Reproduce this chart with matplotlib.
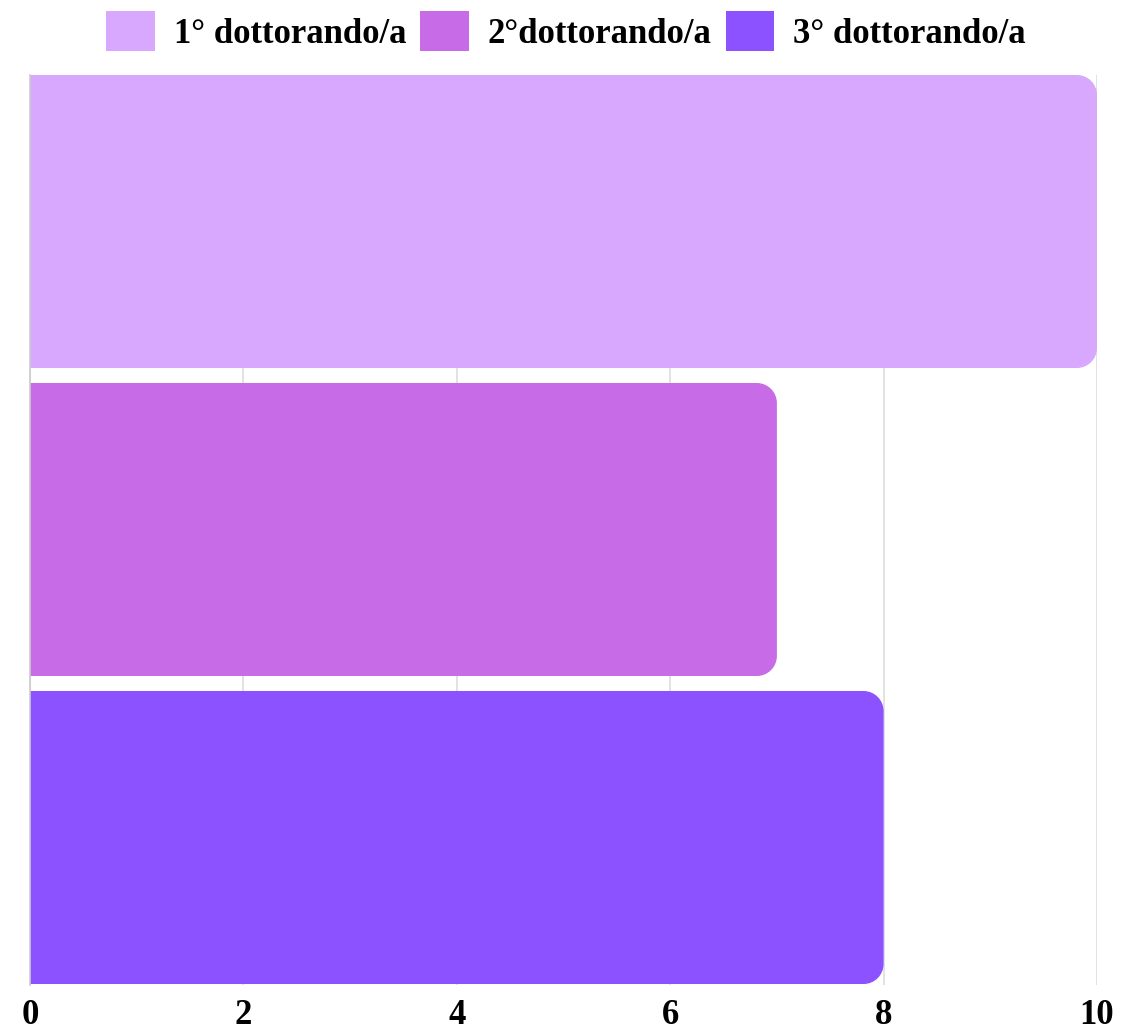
import matplotlib
matplotlib.use('Agg')
import matplotlib.pyplot as plt
from matplotlib.path import Path
from matplotlib.patches import PathPatch, Patch

# data
series = ['1° dottorando/a', '2°dottorando/a', '3° dottorando/a']
values = [10, 7, 8]
colors = ['#D8A8FF', '#C86BE6', '#8C52FF']
xticks = [0, 2, 4, 6, 8, 10]

W, H = 1132, 1035
top, bot = 75, 985
band = 308  # pixel height of one category band
fig = plt.figure(figsize=(W / 100, H / 100), dpi=100)
ax = fig.add_axes([30 / W, 1 - bot / H, (1097 - 30) / W, (bot - top) / H])
ax.set_xlim(0, 10)
y_lo = 7.5 / band
ax.set_ylim(y_lo + (bot - top) / band, y_lo)

# pixel scale to make round corners
px_x = 10 / (1097 - 30)
px_y = 1 / band
r = 20
bar_h = 293 / band


def rounded_bar(x0, x1, yc, h):
    rx, ry = r * px_x, r * px_y
    y0, y1 = yc - h / 2, yc + h / 2
    k = 0.55
    verts = [(x0, y0), (x1 - rx, y0),
             (x1 - rx + k * rx, y0), (x1, y0 + ry - k * ry), (x1, y0 + ry),
             (x1, y1 - ry),
             (x1, y1 - ry + k * ry), (x1 - rx + k * rx, y1), (x1 - rx, y1),
             (x0, y1), (x0, y0)]
    codes = [Path.MOVETO, Path.LINETO,
             Path.CURVE4, Path.CURVE4, Path.CURVE4,
             Path.LINETO,
             Path.CURVE4, Path.CURVE4, Path.CURVE4,
             Path.LINETO, Path.CLOSEPOLY]
    return PathPatch(Path(verts, codes), edgecolor='none')


for i, (v, c) in enumerate(zip(values, colors)):
    p = rounded_bar(0, v, i + 0.5, bar_h)
    p.set_facecolor(c)
    p.set_zorder(2)
    ax.add_patch(p)

ax.set_xticks(xticks)
ax.set_yticks([])
ax.grid(axis='x', color='#dddddd', linewidth=1.2, zorder=0)
ax.tick_params(axis='x', length=0, pad=10)
for s in ['top', 'right', 'bottom']:
    ax.spines[s].set_visible(False)
ax.spines['left'].set_color('#cccccc')
ax.spines['left'].set_linewidth(1.2)
for lab in ax.get_xticklabels():
    lab.set_fontfamily('Liberation Serif')
    lab.set_fontweight('bold')
    lab.set_fontsize(25)

handles = [Patch(facecolor=c, edgecolor='none') for c in colors]
fig.legend(handles, series, loc='center', bbox_to_anchor=(0.5, 1 - 31 / H),
           ncol=3, frameon=False, handlelength=1.4, handleheight=1.4,
           handletextpad=0.55, columnspacing=0.4, borderpad=0,
           prop={'family': 'Liberation Serif', 'weight': 'bold', 'size': 25})

fig.savefig('out.png', dpi=100)
